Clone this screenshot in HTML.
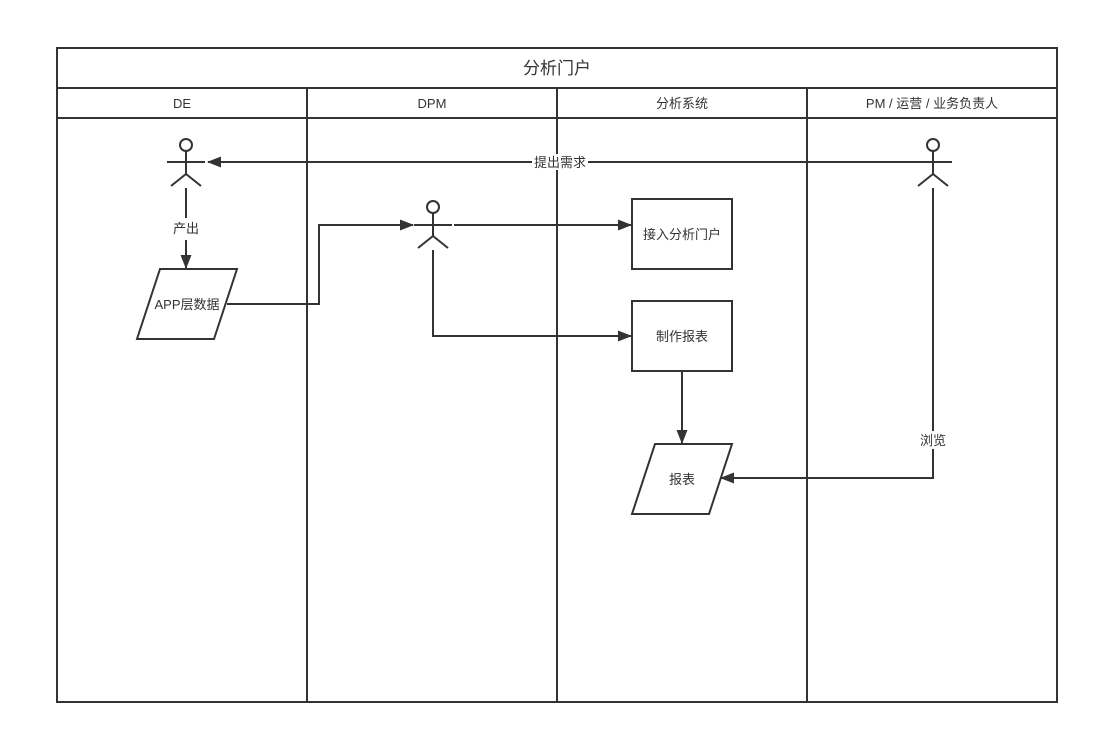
<!DOCTYPE html>
<html><head><meta charset="utf-8"><style>
html,body{margin:0;padding:0;background:#fff;}
svg{display:block;}
text{font-family:"Liberation Sans","Noto Sans CJK SC",sans-serif;fill:#333;}
</style></head><body>
<svg width="1097" height="737" viewBox="0 0 1097 737" xmlns="http://www.w3.org/2000/svg">
<defs>
<marker id="a" markerWidth="14" markerHeight="11" refX="13" refY="5.5" orient="auto" markerUnits="userSpaceOnUse">
<path d="M0,0 L14,5.5 L0,11 Z" fill="#333"/></marker>
</defs>
<g stroke="#333" stroke-width="2" fill="none">
<rect x="57" y="48" width="1000" height="654"/>
<line x1="57" y1="88" x2="1057" y2="88"/>
<line x1="57" y1="118" x2="1057" y2="118"/>
<line x1="307" y1="88" x2="307" y2="702"/>
<line x1="557" y1="88" x2="557" y2="702"/>
<line x1="807" y1="88" x2="807" y2="702"/>
</g>
<g font-size="17" text-anchor="middle"><text x="557" y="74">分析门户</text></g>
<g font-size="13" text-anchor="middle">
<text x="182" y="108">DE</text>
<text x="432" y="108">DPM</text>
<text x="682" y="108">分析系统</text>
<text x="932" y="108">PM / 运营 / 业务负责人</text>
</g>
<g stroke="#333" stroke-width="2" fill="#fff">
<circle cx="186" cy="145" r="6"/>
<circle cx="433" cy="207" r="6"/>
<circle cx="933" cy="145" r="6"/>
</g>
<g stroke="#333" stroke-width="2" fill="none">
<path d="M186,151 V174 M167,162 H205 M186,174 L171,186 M186,174 L201,186"/>
<path d="M433,213 V236 M414,225 H452 M433,236 L418,248 M433,236 L448,248"/>
<path d="M933,151 V174 M914,162 H952 M933,174 L918,186 M933,174 L948,186"/>
<path d="M914,162 H208" marker-end="url(#a)"/>
<path d="M186,188 V218 M186,240 V267" />
<path d="M186,250 V268" marker-end="url(#a)"/>
<path d="M227,304 H319 V225 H413" marker-end="url(#a)"/>
<path d="M454,225 H631" marker-end="url(#a)"/>
<path d="M433,250 V336 H631" marker-end="url(#a)"/>
<path d="M682,372 V443" marker-end="url(#a)"/>
<path d="M933,188 V478 H721" marker-end="url(#a)"/>
<rect x="632" y="199" width="100" height="70" fill="#fff"/>
<rect x="632" y="301" width="100" height="70" fill="#fff"/>
<path d="M160,269 H237 L214,339 H137 Z" fill="#fff"/>
<path d="M655,444 H732 L709,514 H632 Z" fill="#fff"/>
</g>
<rect x="532" y="154" width="56" height="16" fill="#fff"/>
<rect x="170" y="220" width="32" height="18" fill="#fff"/>
<rect x="917" y="431" width="32" height="18" fill="#fff"/>
<g font-size="13" text-anchor="middle">
<text x="560" y="167">提出需求</text>
<text x="186" y="233">产出</text>
<text x="933" y="445">浏览</text>
<text x="187" y="309">APP层数据</text>
<text x="682" y="239">接入分析门户</text>
<text x="682" y="341">制作报表</text>
<text x="682" y="484">报表</text>
</g>
</svg>
</body></html>
